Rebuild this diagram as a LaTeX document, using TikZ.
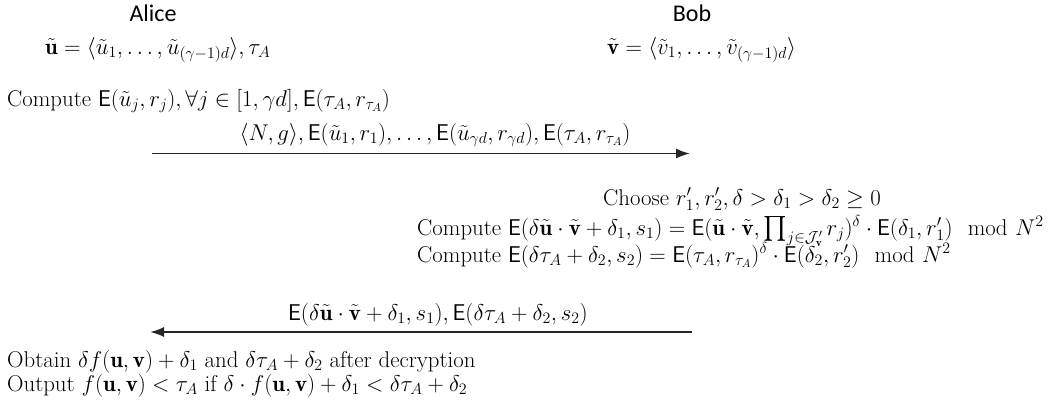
\RequirePackage{fix-cm}
\documentclass[tikz,border=0pt]{standalone}
\usepackage{amsmath}
\usepackage{fontspec}
\newfontfamily\namefont{Carlito}
\usetikzlibrary{arrows.meta}
\begin{document}
\begin{tikzpicture}[x=1bp,y=-1bp,
  txt/.style={inner sep=0pt, anchor=base west, font=\fontsize{22.8bp}{27bp}\selectfont},
  lbl/.style={inner sep=0pt, anchor=base, font=\fontsize{22.8bp}{27bp}\selectfont},
  party/.style={inner sep=0pt, anchor=center, font=\fontsize{24bp}{28bp}\selectfont\namefont},
  msg/.style={line width=1.8bp, draw=black!85, -{Latex[length=14bp,width=10bp]}}]
\useasboundingbox (0,0) rectangle (1055,413);
\node[party] (alice) at (153,13) {Alice};
\node[party] (bob) at (692,13) {Bob};
\node[txt] (uvec) at (45,54) {$\tilde{\mathbf{u}} = \langle \tilde u_1, \ldots, \tilde u_{(\gamma-1)d}\rangle, \tau_A$};
\node[txt] (vvec) at (607,54) {$\tilde{\mathbf{v}} = \langle \tilde v_1, \ldots, \tilde v_{(\gamma-1)d}\rangle$};
\node[txt] (acomp) at (7,106) {Compute $\mathsf{E}(\tilde u_j, r_j), \forall j \in [1,\gamma d], \mathsf{E}(\tau_A, r_{\tau_A})$};
\coordinate (a1s) at (152,153.5);
\coordinate (a1e) at (690,153.5);
\draw[msg] (a1s) -- (a1e);
\node[lbl] (m1) at (435,140) {$\langle N, g\rangle, \mathsf{E}(\tilde u_1, r_1), \ldots, \mathsf{E}(\tilde u_{\gamma d}, r_{\gamma d}), \mathsf{E}(\tau_A, r_{\tau_A})$};
\node[txt] (choose) at (603,205) {Choose $r'_1, r'_2, \delta > \delta_1 > \delta_2 \geq 0$};
\node[txt] (bcomp1) at (417,235) {Compute $\mathsf{E}(\delta\tilde{\mathbf u}\cdot\tilde{\mathbf v}+\delta_1, s_1) = \mathsf{E}(\tilde{\mathbf u}\cdot\tilde{\mathbf v}, \prod_{j\in\mathcal{J}'_{\mathbf v}} r_j)^\delta \cdot \mathsf{E}(\delta_1, r'_1) \mod{N^2}$};
\node[txt] (bcomp2) at (417,262) {Compute $\mathsf{E}(\delta\tau_A+\delta_2, s_2) = \mathsf{E}(\tau_A, r_{\tau_A})^\delta\cdot\mathsf{E}(\delta_2, r'_2) \mod{N^2}$};
\coordinate (a2s) at (692,332);
\coordinate (a2e) at (150,332);
\draw[msg] (a2s) -- (a2e);
\node[lbl] (m2) at (438,320) {$\mathsf{E}(\delta\tilde{\mathbf u}\cdot\tilde{\mathbf v}+\delta_1, s_1), \mathsf{E}(\delta\tau_A+\delta_2, s_2)$};
\node[txt] (obtain) at (7,367) {Obtain $\delta f(\mathbf u,\mathbf v)+\delta_1$ and $\delta\tau_A+\delta_2$ after decryption};
\node[txt] (output) at (7,391) {Output $f(\mathbf u,\mathbf v) < \tau_A$ if $\delta\cdot f(\mathbf u,\mathbf v)+\delta_1 < \delta\tau_A+\delta_2$};
\end{tikzpicture}
\end{document}
